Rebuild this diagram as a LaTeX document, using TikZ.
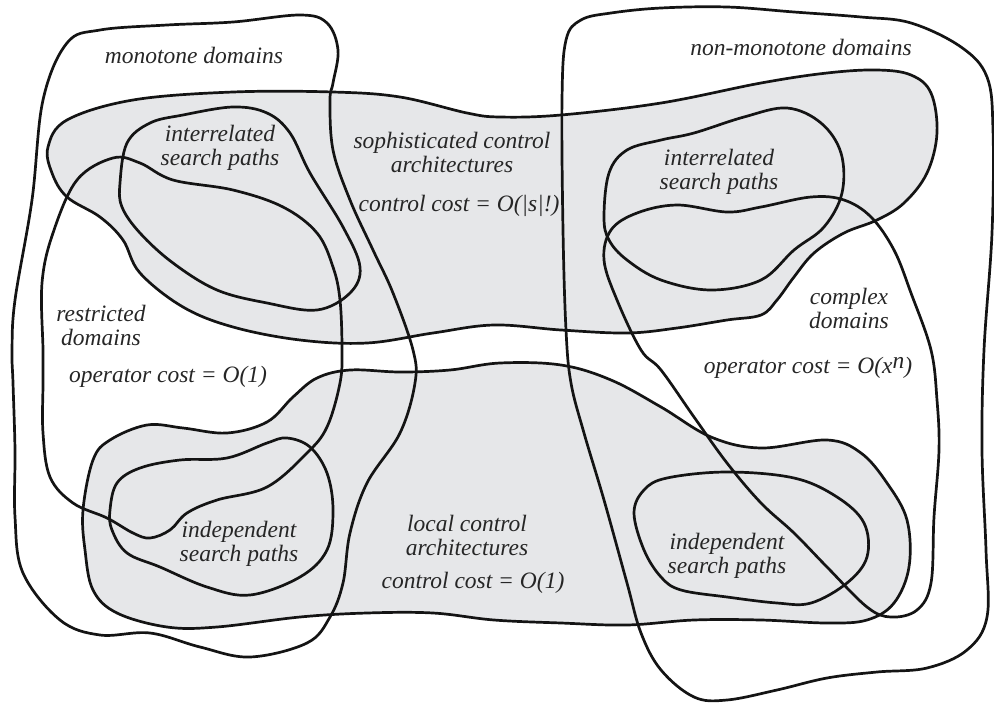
\documentclass[tikz,border=0pt]{standalone}
\usepackage{fontspec}
\setmainfont{Liberation Serif}
\definecolor{blobgray}{RGB}{230,231,233}
\tikzset{
  outline/.style={line width=2.7pt, draw=black!92},
  blobfill/.style={fill=blobgray, draw=none},
  lbl/.style={font=\fontsize{23.5}{24}\selectfont\itshape, align=center, inner sep=0pt, text=black!85}
}
\begin{document}
\begin{tikzpicture}[x=1pt,y=-1pt]
\useasboundingbox (0,0) rectangle (994,702);
% gray blobs: top (sophisticated) and bottom (local)
\def\topblob{(48,147) (67,120) (133,100) (233,92) (333,92) (400,97) (467,113) (500,117) (561,115) (661,103) (761,83) (827,73) (877,70) (911,75) (931,93) (937,133) (927,173) (904,203) (877,220) (844,233) (814,253) (794,277) (777,300) (761,315) (727,320) (677,328) (627,333) (561,330) (494,325) (433,333) (367,343) (300,340) (233,327) (183,307) (140,273) (123,240) (100,217) (67,197) (52,173)}
\def\botblob{(83,510) (93,460) (110,440) (147,425) (183,428) (227,433) (267,422) (293,397) (317,378) (350,370) (400,372) (450,370) (500,363) (561,365) (611,380) (661,407) (711,437) (761,448) (827,440) (861,453) (887,483) (907,520) (909,567) (894,603) (867,620) (827,623) (761,620) (694,620) (627,625) (561,623) (494,620) (433,613) (367,613) (300,617) (217,627) (167,627) (117,613) (93,590) (85,550)}
\fill[blobfill] plot[smooth cycle, tension=0.6] coordinates {\topblob};
\fill[blobfill] plot[smooth cycle, tension=0.6] coordinates {\botblob};
\draw[outline] plot[smooth cycle, tension=0.6] coordinates {\topblob};
\draw[outline] plot[smooth cycle, tension=0.6] coordinates {\botblob};
% monotone domains
\draw[outline] plot[smooth cycle, tension=0.6] coordinates {(12,350) (15,300) (32,200) (43,100) (67,43) (100,30) (167,25) (233,22) (300,15) (327,23) (338,50) (333,83) (330,100) (333,150) (350,200) (373,250) (393,293) (413,350) (415,383) (400,433) (367,483) (350,533) (343,583) (330,617) (307,643) (250,657) (200,647) (150,633) (100,635) (60,620) (23,573) (15,517) (15,450) (13,383)};
% restricted domains
\draw[outline] plot[smooth cycle, tension=0.6] coordinates {(43,350) (42,283) (53,233) (77,180) (113,158) (140,163) (173,180) (233,190) (283,207) (317,233) (333,267) (340,300) (342,350) (340,383) (327,427) (307,453) (267,487) (217,500) (187,513) (170,530) (150,538) (133,533) (107,518) (73,503) (50,477) (43,433) (43,383)};
% non-monotone domains
\draw[outline] plot[smooth cycle, tension=0.6] coordinates {(563,230) (562,100) (566,40) (581,20) (611,13) (661,8) (727,7) (794,12) (861,17) (911,23) (961,47) (987,77) (993,130) (992,233) (984,350) (982,450) (986,550) (987,617) (967,650) (927,668) (877,672) (827,678) (777,690) (727,700) (694,697) (661,670) (641,633) (627,583) (604,500) (584,433) (571,383) (566,330)};
% complex domains
\draw[outline] plot[smooth cycle, tension=0.6] coordinates {(641,350) (617,300) (604,260) (611,230) (637,213) (677,205) (727,212) (761,207) (811,197) (844,200) (871,217) (894,250) (911,293) (931,350) (937,400) (939,450) (934,517) (931,583) (917,610) (891,617) (867,607) (827,567) (794,533) (761,503) (727,463) (694,417) (661,370)};
% interrelated (left)
\draw[outline] plot[smooth cycle, tension=0.6] coordinates {(120,183) (127,143) (150,123) (183,115) (233,107) (267,113) (290,133) (310,173) (343,227) (360,267) (350,293) (317,310) (267,303) (217,290) (173,263) (140,233) (122,207)};
% interrelated (right)
\draw[outline] plot[smooth cycle, tension=0.6] coordinates {(604,217) (609,173) (627,150) (661,140) (694,133) (744,117) (787,108) (821,123) (841,153) (842,193) (824,227) (794,250) (761,280) (711,290) (661,280) (627,260) (609,240)};
% independent (left)
\draw[outline] plot[smooth cycle, tension=0.6] coordinates {(110,510) (117,483) (140,468) (180,460) (227,458) (267,443) (287,438) (310,447) (327,473) (333,510) (327,550) (300,577) (250,595) (207,587) (160,567) (127,553) (112,530)};
% independent (right)
\draw[outline] plot[smooth cycle, tension=0.6] coordinates {(634,513) (644,490) (667,478) (727,472) (794,478) (837,497) (864,523) (867,557) (847,583) (811,603) (777,603) (727,597) (681,590) (661,577) (644,550)};
% labels
\node[lbl] (mono) at (194,55) {monotone domains};
\node[lbl] (nonmono) at (801,47) {non-monotone domains};
\node[lbl] (irl) at (220,148) {interrelated\\search paths};
\node[lbl] (soph) at (452,152) {sophisticated control\\architectures};
\node[lbl] (ccs) at (459,206) {control cost = O(|s|!)};
\node[lbl] (irr) at (719,172) {interrelated\\search paths};
\node[lbl] (restr) at (101,325) {restricted\\domains};
\node[lbl] (cplx) at (849,308) {complex\\domains};
\node[lbl] (op1) at (168,377) {operator cost = O(1)};
\node[lbl] (opx) at (808,368) {operator cost = O(x\raisebox{0.45ex}{n})};
\node[lbl] (indl) at (239,544) {independent\\search paths};
\node[lbl] (local) at (467,535) {local control\\architectures};
\node[lbl] (cc1) at (473,583) {control cost = O(1)};
\node[lbl] (indr) at (727,556) {independent\\search paths};
\end{tikzpicture}
\end{document}
